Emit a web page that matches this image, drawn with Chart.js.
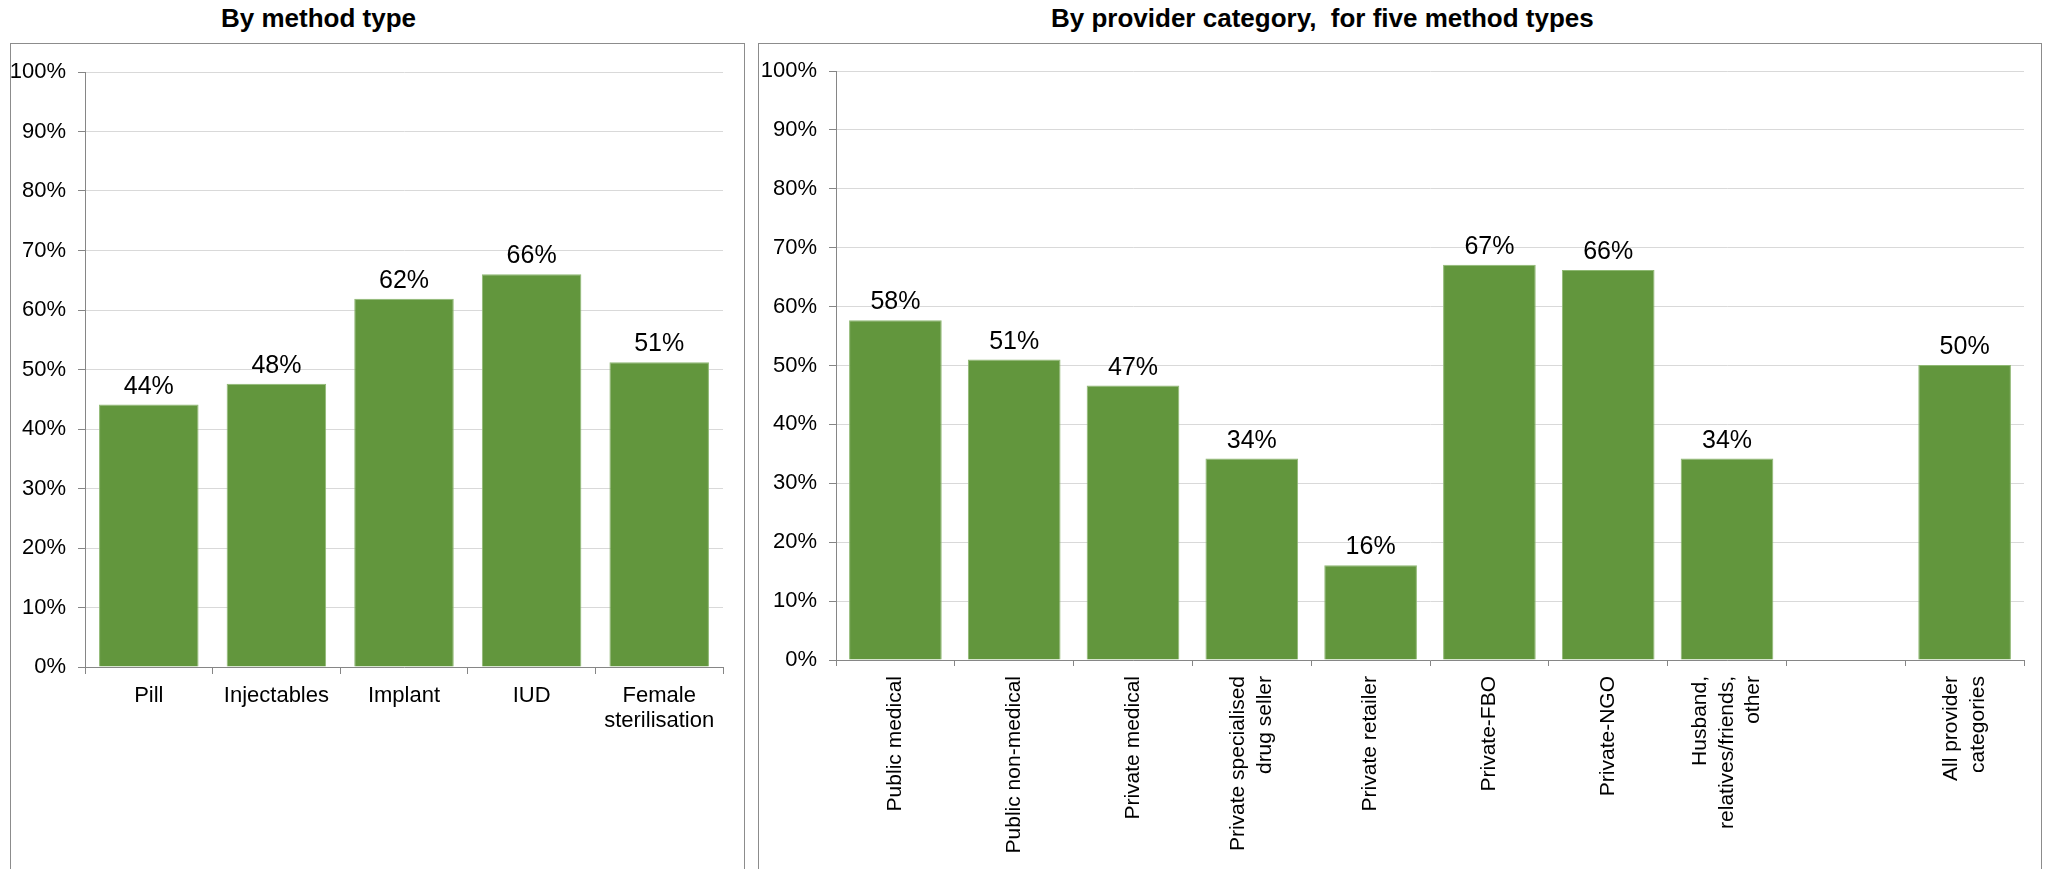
<!DOCTYPE html>
<html>
<head>
<meta charset="utf-8">
<script src="https://cdn.jsdelivr.net/npm/chart.js@4.4.1/dist/chart.umd.min.js"></script>
<style>
  body { margin: 0; background: #fff; width: 2056px; height: 869px; overflow: hidden; position: relative;
         font-family: "Liberation Sans", Arial, sans-serif; }
  .panel { position: absolute; top: 43px; height: 860px; border: 1px solid #8c8c8c; }
  .title { position: absolute; top: 5px; font-weight: bold; font-size: 26px; line-height: 26px; white-space: pre; color: #000; }
  canvas { position: absolute; left: 0; top: 0; }
</style>
</head>
<body>
<div class="title" style="left:221px">By method type</div>
<div class="title" style="left:1051px">By provider category,  for five method types</div>
<div class="panel" style="left:10px;width:733px"><canvas id="methods" width="733" height="825"></canvas></div>
<div class="panel" style="left:758px;width:1282px"><canvas id="providers" width="1282" height="825"></canvas></div>
<script>
const methodLabels = ['Pill', 'Injectables', 'Implant', 'IUD', ['Female', 'sterilisation']]
const methodValues = [44.1, 47.6, 61.9, 66.0, 51.2]

const providerLabels = [
  ['Public medical'],
  ['Public non-medical'],
  ['Private medical'],
  ['Private specialised', 'drug seller'],
  ['Private retailer'],
  ['Private-FBO'],
  ['Private-NGO'],
  ['Husband,', 'relatives/friends,', 'other'],
  [''],
  ['All provider', 'categories']
]
const providerValues = [57.7, 51.0, 46.6, 34.2, 16.1, 67.1, 66.2, 34.2, null, 50.1]

const yMin = 0
const yMax = 100
const yStep = 10

const FONT = '"Liberation Sans", Arial, sans-serif'
const GREEN = 'rgb(98,150,61)'
const AXIS = '#868686'

// percentage above each bar
const valueLabels = {
  id: 'valueLabels',
  afterDatasetsDraw(chart) {
    const ctx = chart.ctx
    const vals = chart.data.datasets[0].data
    ctx.save()
    ctx.font = '25px ' + FONT
    ctx.fillStyle = '#000'
    ctx.textAlign = 'center'
    ctx.textBaseline = 'alphabetic'
    chart.getDatasetMeta(0).data.forEach((bar, i) => {
      if (vals[i] == null) return
      ctx.fillText(Math.round(vals[i]) + '%', bar.x, bar.y - 11)
    })
    ctx.restore()
  }
}

// vertical category labels, lines centred on the tick
const rotatedLabels = {
  id: 'rotatedLabels',
  afterDraw(chart) {
    const x = chart.scales.x
    const ctx = chart.ctx
    const lh = 26.7
    ctx.save()
    ctx.font = '21px ' + FONT
    ctx.fillStyle = '#000'
    ctx.textAlign = 'right'
    ctx.textBaseline = 'middle'
    chart.data.labels.forEach((lines, i) => {
      ctx.save()
      ctx.translate(x.getPixelForTick(i), x.top + 16)
      ctx.rotate(-Math.PI / 2)
      lines.forEach((t, j) => ctx.fillText(t, 0, (j - (lines.length - 1) / 2) * lh))
      ctx.restore()
    })
    ctx.restore()
  }
}

function makeChart(id, labels, values, g) {
  return new Chart(document.getElementById(id), {
    type: 'bar',
    data: {
      labels: labels,
      datasets: [{
        data: values,
        backgroundColor: GREEN,
        borderColor: '#8fb873',
        borderWidth: 1,
        categoryPercentage: 1,
        barPercentage: 0.78
      }]
    },
    options: {
      responsive: false,
      animation: false,
      layout: { padding: { top: g.top, right: g.right, left: 0, bottom: 0 } },
      plugins: { legend: { display: false }, tooltip: { enabled: false }, title: { display: false } },
      scales: {
        x: {
          afterFit: s => { s.height = g.xHeight },
          border: { color: AXIS, width: 1 },
          grid: { offset: true, drawOnChartArea: false, tickLength: g.tick, tickColor: AXIS },
          ticks: {
            display: !g.rotated,
            color: '#000',
            font: { family: FONT, size: 22, lineHeight: 1.105 },
            maxRotation: 0,
            minRotation: 0,
            autoSkip: false,
            padding: 10
          }
        },
        y: {
          min: yMin,
          max: yMax,
          afterFit: s => { s.width = g.yWidth },
          border: { color: AXIS, width: 1 },
          grid: { color: '#d9d9d9', tickColor: AXIS, tickLength: 7 },
          ticks: {
            stepSize: yStep,
            color: '#000',
            font: { family: FONT, size: 22 },
            padding: 12,
            callback: v => v + '%'
          }
        }
      }
    },
    plugins: g.rotated ? [valueLabels, rotatedLabels] : [valueLabels]
  })
}

makeChart('methods', methodLabels, methodValues, { top: 28, right: 21, yWidth: 74, xHeight: 202, tick: 7, rotated: false })
makeChart('providers', providerLabels, providerValues, { top: 27, right: 17, yWidth: 77, xHeight: 209, tick: 6, rotated: true })
</script>
</body>
</html>
